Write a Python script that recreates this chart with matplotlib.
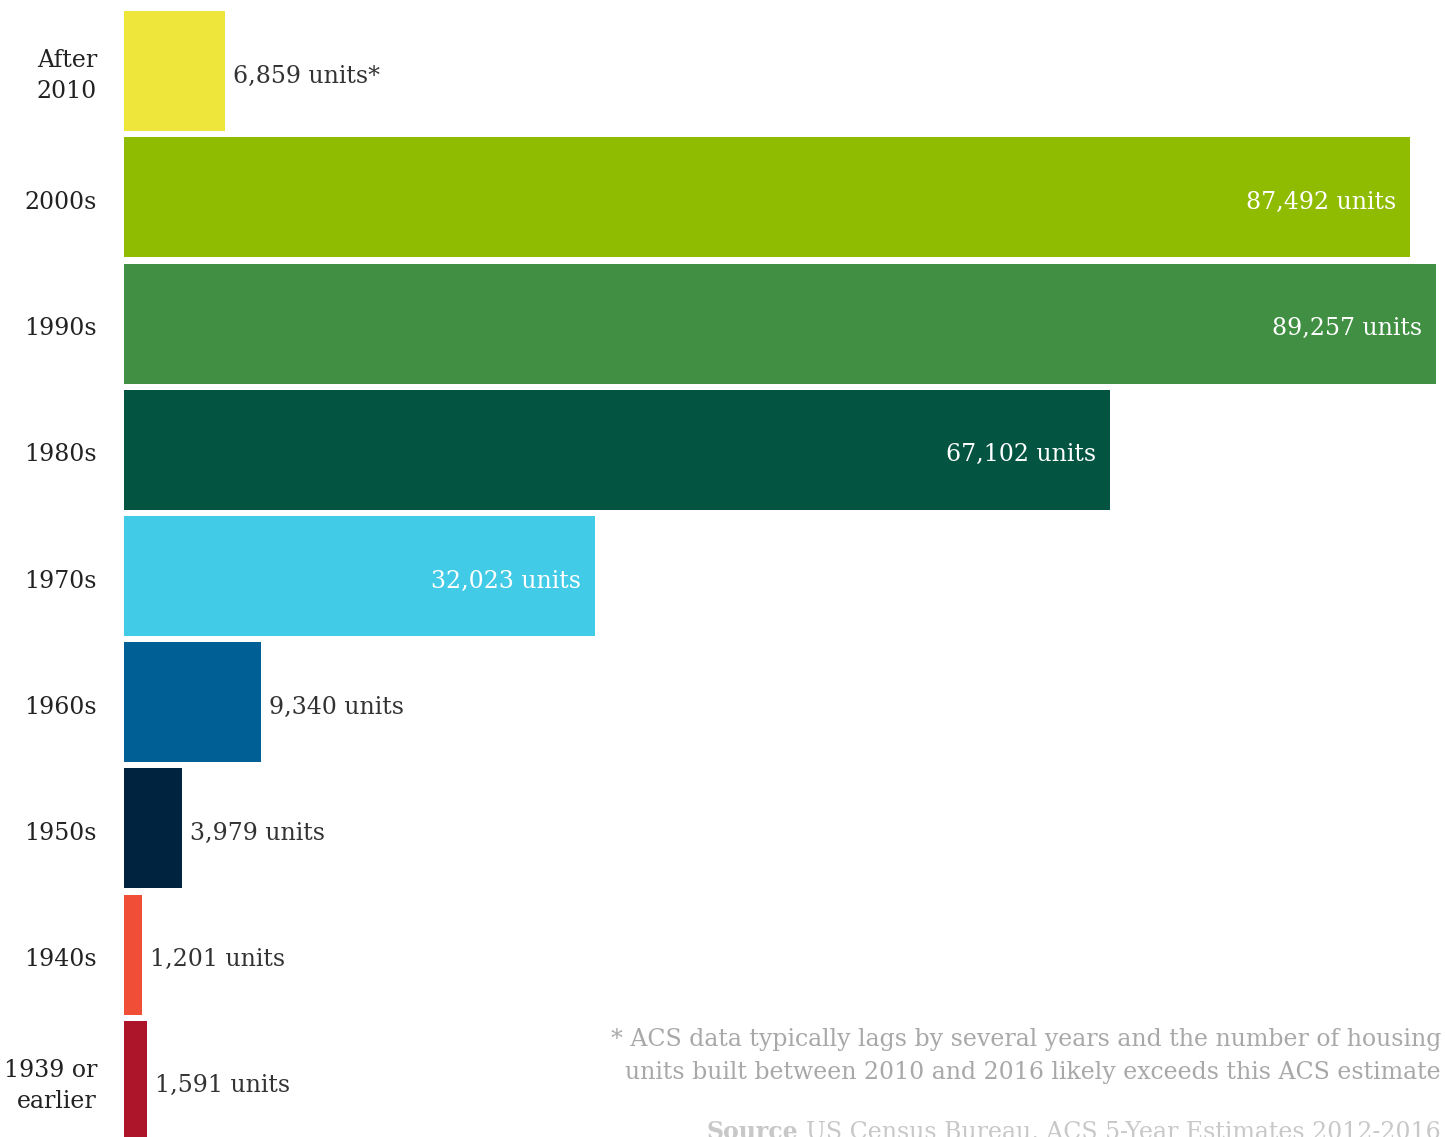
import matplotlib
matplotlib.use('Agg')
import matplotlib.pyplot as plt

# Housing units by decade built
decades = ['After\n2010', '2000s', '1990s', '1980s', '1970s',
           '1960s', '1950s', '1940s', '1939 or\nearlier']
units = [6859, 87492, 89257, 67102, 32023, 9340, 3979, 1201, 1591]
suffix = ['*', '', '', '', '', '', '', '', '']
colors = ['#EEE63A', '#8FBC00', '#418F43', '#035541', '#42CBE6',
          '#005F95', '#002340', '#F04E37', '#AD152B']
inside = [False, True, True, True, True, False, False, False, False]

plt.rcParams['font.family'] = ['DejaVu Serif']

W, H = 1445, 1137
fig = plt.figure(figsize=(W / 100, H / 100), dpi=100)
ax = fig.add_axes([124 / W, -7 / H, 1312 / W, 1136 / H])

ypos = list(range(len(decades)))
ax.barh(ypos, units, height=0.95, color=colors)
ax.set_xlim(0, max(units))
ax.set_ylim(len(decades) - 0.5, -0.5)
ax.axis('off')

fs = 17
dy = -5  # nudge text down so digits sit centred on the bar
for y, v, s, inn in zip(ypos, units, suffix, inside):
    label = f'{v:,} units{s}'
    if inn:
        ax.annotate(label, (v, y), xytext=(-14, dy), textcoords='offset pixels',
                    ha='right', va='center', color='white', fontsize=fs)
    else:
        ax.annotate(label, (v, y), xytext=(8, dy), textcoords='offset pixels',
                    ha='left', va='center', color='#333333', fontsize=fs)

for y, name in zip(ypos, decades):
    ax.annotate(name, (0, y), xytext=(-27, dy), textcoords='offset pixels',
                ha='right', va='center', color='#222222', fontsize=fs,
                linespacing=1.45)

# footnote
fig.text(1441 / W, 1 - 1056 / H,
         '* ACS data typically lags by several years and the number of housing\n'
         'units built between 2010 and 2016 likely exceeds this ACS estimate',
         ha='right', va='center', color='#A8A8A8', fontsize=fs, linespacing=1.52)

# source line sits at the very bottom edge
src = fig.text(1441 / W, 1 - 1139 / H,
               'US Census Bureau, ACS 5-Year Estimates 2012-2016',
               ha='right', va='baseline', color='#C8C8C8', fontsize=fs)
fig.canvas.draw()
bb = src.get_window_extent()
fig.text((bb.x0 - 8) / W, 1 - 1139 / H, 'Source', ha='right', va='baseline',
         color='#C8C8C8', fontsize=fs, fontweight='bold')

fig.savefig('out.png', dpi=100)
